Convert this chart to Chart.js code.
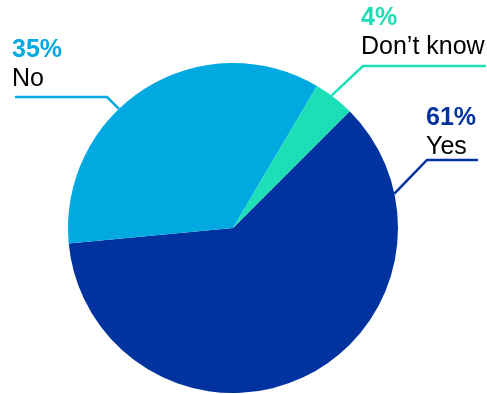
<!DOCTYPE html>
<html>
<head>
<meta charset="utf-8">
<script src="https://cdn.jsdelivr.net/npm/chart.js@4/dist/chart.umd.min.js"></script>
<style>
  html, body { margin: 0; padding: 0; background: #fff; }
  #wrap { width: 487px; height: 394px; position: relative; }
</style>
</head>
<body>
<div id="wrap"><canvas id="chart"></canvas></div>
<script>
const categories = ['Yes', 'No', 'Don\u2019t know'];
const shares = [61, 35, 4];
const sliceColors = ['#0033a0', '#00a9e0', '#1cdfb8'];

// where each callout sits: text start and baseline, elbow of the leader,
// end of the horizontal run, and how far along its slice the leader touches the rim
const callouts = [
  { textX: 426, baseY: 125, elbowX: 427, elbowY: 160, endX: 478, along: 0.15 },
  { textX: 12, baseY: 57, elbowX: 107, elbowY: 97, endX: 15, along: 0.41 },
  { textX: 361, baseY: 25, elbowX: 363, elbowY: 66, endX: 486, along: 0.42 }
];

const calloutPlugin = {
  id: 'callouts',
  afterDatasetsDraw(chart) {
    const ctx = chart.ctx;
    const arcs = chart.getDatasetMeta(0).data;
    arcs.forEach((arc, i) => {
      const c = callouts[i];
      const a = arc.startAngle + (arc.endAngle - arc.startAngle) * c.along;
      const px = arc.x + Math.cos(a) * arc.outerRadius;
      const py = arc.y + Math.sin(a) * arc.outerRadius;

      ctx.save();
      ctx.strokeStyle = sliceColors[i];
      ctx.lineWidth = 2.5;
      ctx.beginPath();
      ctx.moveTo(px, py);
      ctx.lineTo(c.elbowX, c.elbowY);
      ctx.lineTo(c.endX, c.elbowY);
      ctx.stroke();

      ctx.textAlign = 'left';
      ctx.textBaseline = 'alphabetic';
      ctx.fillStyle = sliceColors[i];
      ctx.font = 'bold 25px "Liberation Sans", Arial, sans-serif';
      ctx.fillText(shares[i] + '%', c.textX, c.baseY);
      ctx.fillStyle = '#000';
      ctx.font = '25px "Liberation Sans", Arial, sans-serif';
      ctx.fillText(categories[i], c.textX, c.baseY + 29);
      ctx.restore();
    });
  }
};

new Chart(document.getElementById('chart'), {
  type: 'pie',
  data: {
    labels: categories,
    datasets: [{
      data: shares,
      backgroundColor: sliceColors,
      borderWidth: 0
    }]
  },
  options: {
    responsive: true,
    maintainAspectRatio: false,
    animation: false,
    rotation: 45,
    layout: { padding: { left: 68, right: 89, top: 63, bottom: 1 } },
    plugins: {
      legend: { display: false },
      tooltip: { enabled: false }
    }
  },
  plugins: [calloutPlugin]
});
</script>
</body>
</html>
